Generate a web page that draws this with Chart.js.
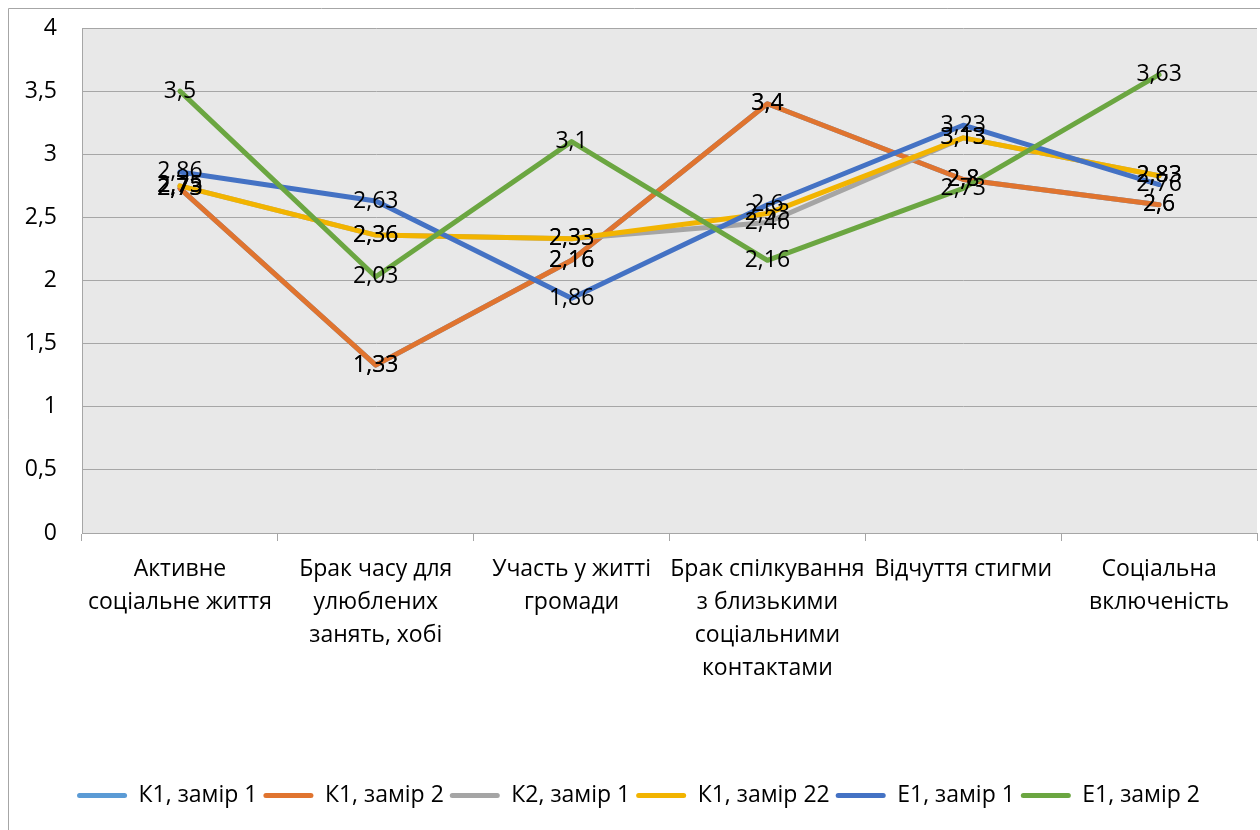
<!DOCTYPE html>
<html>
<head>
<meta charset="utf-8">
<script src="https://cdn.jsdelivr.net/npm/chart.js@4/dist/chart.umd.min.js"></script>
<style>
  html, body { margin: 0; padding: 0; background: #ffffff; }
  #wrap { width: 1260px; height: 830px; position: relative; }
</style>
</head>
<body>
<div id="wrap"><canvas id="c" width="1260" height="830"></canvas></div>
<script>
// Categories (multi-line axis labels)
const categories = [
  ['Активне', 'соціальне життя'],
  ['Брак часу для', 'улюблених', 'занять, хобі'],
  ['Участь у житті', 'громади'],
  ['Брак спілкування', 'з близькими', 'соціальними', 'контактами'],
  ['Відчуття стигми'],
  ['Соціальна', 'включеність']
];

// Series values
const k1Measure1  = [2.73, 1.33, 2.16, 3.4, 2.8, 2.6];
const k1Measure2  = [2.73, 1.33, 2.16, 3.4, 2.8, 2.6];
const k2Measure1  = [2.75, 2.36, 2.33, 2.46, 3.13, 2.83];
const k1Measure22 = [2.75, 2.36, 2.33, 2.53, 3.13, 2.83];
const e1Measure1  = [2.86, 2.63, 1.86, 2.6, 3.23, 2.76];
const e1Measure2  = [3.5, 2.03, 3.1, 2.16, 2.73, 3.63];

const seriesNames = ['К1, замір 1', 'К1, замір 2', 'К2, замір 1', 'К1, замір 22', 'Е1, замір 1', 'Е1, замір 2'];
const yTicks = [0, 0.5, 1, 1.5, 2, 2.5, 3, 3.5, 4];

const FONT = '"Open Sans", "Noto Sans", sans-serif';
const fmt = v => String(v).replace('.', ',');

const seriesData = [k1Measure1, k1Measure2, k2Measure1, k1Measure22, e1Measure1, e1Measure2];
const colors = ['#5B9BD5', '#E0742F', '#A5A5A5', '#F2B400', '#4472C4', '#6BA641'];
// later series are painted over earlier ones
const drawOrder = [6, 5, 4, 3, 2, 1];

const datasets = seriesData.map((d, i) => ({
  label: seriesNames[i],
  data: d,
  borderColor: colors[i],
  backgroundColor: colors[i],
  borderWidth: 5,
  pointRadius: 0,
  pointHoverRadius: 0,
  tension: 0,
  fill: false,
  order: drawOrder[i],
  borderCapStyle: 'round',
  borderJoinStyle: 'round'
}));

// Light grey plot area and the thin frame around the whole chart
const backdrop = {
  id: 'backdrop',
  beforeDraw(chart) {
    const { ctx, chartArea: a } = chart;
    ctx.save();
    ctx.fillStyle = '#ffffff';
    ctx.fillRect(0, 0, chart.width, chart.height);
    ctx.fillStyle = '#E8E8E8';
    ctx.fillRect(a.left, a.top, a.right - a.left, a.bottom - a.top);
    ctx.strokeStyle = '#A6A6A6';
    ctx.lineWidth = 1;
    ctx.beginPath();
    ctx.moveTo(8.5, chart.height);
    ctx.lineTo(8.5, 8.5);
    ctx.lineTo(chart.width, 8.5);
    ctx.stroke();
    ctx.restore();
  }
};

// Value labels centred on each point, above all lines
const valueLabels = {
  id: 'valueLabels',
  afterDatasetsDraw(chart) {
    const { ctx } = chart;
    ctx.save();
    ctx.font = '23px ' + FONT;
    ctx.fillStyle = '#000000';
    ctx.textAlign = 'center';
    ctx.textBaseline = 'middle';
    chart.data.datasets.forEach((ds, i) => {
      const meta = chart.getDatasetMeta(i);
      meta.data.forEach((pt, j) => {
        ctx.fillText(fmt(ds.data[j]), pt.x, pt.y);
      });
    });
    ctx.restore();
  }
};

const defaultLabels = Chart.defaults.plugins.legend.labels.generateLabels;

new Chart(document.getElementById('c'), {
  type: 'line',
  data: { labels: categories, datasets },
  options: {
    responsive: false,
    animation: false,
    devicePixelRatio: 1,
    layout: { padding: { left: 20, right: 3, top: 28, bottom: 13 } },
    plugins: {
      tooltip: { enabled: false },
      legend: {
        position: 'bottom',
        labels: {
          font: { family: FONT, size: 23 },
          color: '#000000',
          boxWidth: 50,
          boxHeight: 5,
          padding: 6,
          sort: (a, b) => a.datasetIndex - b.datasetIndex,
          generateLabels(chart) {
            return defaultLabels(chart).map(it => Object.assign(it, {
              lineWidth: 0,
              fillStyle: it.strokeStyle,
              borderRadius: 2.5
            }));
          }
        }
      }
    },
    scales: {
      x: {
        offset: true,
        grid: {
          offset: true,
          drawOnChartArea: false,
          drawTicks: true,
          tickLength: 8,
          color: '#A6A6A6',
          lineWidth: 1
        },
        border: { display: true, color: '#A6A6A6', width: 1 },
        ticks: {
          font: { family: FONT, size: 23, lineHeight: 1.43 },
          color: '#000000',
          padding: 12,
          maxRotation: 0,
          autoSkip: false
        },
        afterFit(scale) { scale.height = 245; }
      },
      y: {
        min: 0,
        max: 4,
        afterBuildTicks(scale) { scale.ticks = yTicks.map(v => ({ value: v })); },
        grid: {
          color: '#A6A6A6',
          lineWidth: 1,
          drawTicks: false
        },
        border: { display: true, color: '#A6A6A6', width: 1 },
        ticks: {
          font: { family: FONT, size: 23 },
          color: '#000000',
          padding: 25,
          callback: v => fmt(v)
        },
        afterFit(scale) {
          scale.width = 62;
          scale.paddingTop = 0;
          scale.paddingBottom = 0;
        }
      }
    }
  },
  plugins: [backdrop, valueLabels]
});
</script>
</body>
</html>
